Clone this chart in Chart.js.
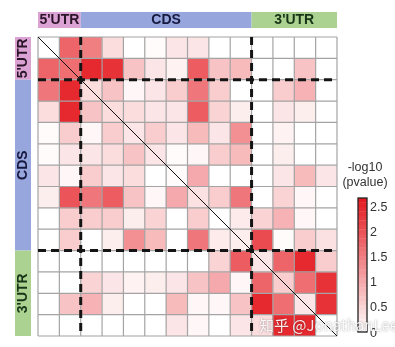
<!DOCTYPE html>
<html>
<head>
<meta charset="utf-8">
<script src="https://cdn.jsdelivr.net/npm/chart.js@4"></script>
<style>
html, body { margin: 0; padding: 0; background: #fff; }
#wrap { width: 395px; height: 347px; }
</style>
</head>
<body>
<div id="wrap"><canvas id="myHeat"></canvas></div>
<script>
// regions along both axes
const regionNames = ["5'UTR", "CDS", "3'UTR"];
const regionSizes = [2, 8, 4];
const regionColors = ['#dba3d4', '#97a6dc', '#acd291'];
const regionText = ['#2a1428', '#16183e', '#173417'];

// colorbar
const cbTicks = [0, 0.5, 1, 1.5, 2, 2.5];
const vMax = 2.7;

// -log10(pvalue), row by row (top to bottom), columns left to right
const values = [
    [0, 1.8, 1.5, 0.4, 0, 0.05, 0.3, 0.3, 0, 0, 0, 0, 0, 0],
    [1.8, 1.7, 2.5, 2.4, 0.7, 0.3, 0.15, 1.9, 0.7, 0.8, 0, 0, 0.7, 0],
    [1.6, 2.5, 0.4, 0.7, 0.1, 0.3, 0.6, 1.6, 0.6, 0, 0, 0.6, 0.9, 0],
    [0.4, 2.5, 0.7, 0.4, 0.4, 0.3, 0.3, 1.9, 0.5, 0.2, 0, 0.3, 0.2, 0],
    [0.05, 0.6, 0.1, 0.6, 0.3, 0.6, 0.3, 0.8, 0.3, 1.3, 0, 0.15, 0, 0],
    [0.05, 0.3, 0.3, 0.4, 0.7, 0.3, 0.05, 0.1, 0.6, 0.8, 0, 0.2, 0, 0],
    [0.3, 0.1, 0.6, 0.3, 0.4, 0, 0.05, 1.0, 0, 0, 0, 0.3, 0.8, 0.3],
    [0.2, 2.0, 1.6, 1.9, 0.7, 0.1, 1.0, 0.35, 0.6, 1.6, 0, 0.5, 0.1, 0],
    [0, 0.6, 0.6, 0.6, 0.2, 0.5, 0, 0.6, 0, 0.25, 0.5, 0.9, 0.1, 0],
    [0, 0.6, 0, 0.2, 1.3, 0.8, 0, 1.6, 0.25, 0.2, 2.1, 0.05, 0.6, 0.35],
    [0, 0, 0, 0, 0, 0, 0, 0, 0.5, 1.9, 0.3, 1.8, 2.5, 0.6],
    [0, 0, 0.5, 0.3, 0.15, 0.2, 0.3, 0.7, 1.0, 0.1, 1.8, 0.6, 1.7, 2.4],
    [0, 0.7, 0.9, 0.2, 0, 0, 0.8, 0.1, 0.1, 0.7, 2.5, 1.7, 0.3, 2.4],
    [0, 0, 0, 0, 0, 0, 0.3, 0.1, 0, 0.3, 0.4, 2.5, 2.5, 0]
];

const watermark = '知乎 @JonathanLee';

function heatColor(v) {
    const t = Math.max(0, Math.min(1, v / vMax));
    const r = Math.round(255 + (228 - 255) * t);
    const g = Math.round(255 + (24 - 255) * t);
    const b = Math.round(255 + (30 - 255) * t);
    return `rgb(${r}, ${g}, ${b})`;
}

const nCells = values.length;
const colLabels = values[0].map((_, i) => i);

// one stacked dataset per row, each cell is one unit tall
const datasets = values.map((row, r) => ({
    label: 'row' + r,
    data: row.map(() => 1),
    backgroundColor: row.map(heatColor),
    borderWidth: 0,
    barPercentage: 1,
    categoryPercentage: 1,
}));

const decorPlugin = {
    id: 'decor',
    afterDatasetsDraw(chart) {
        const ctx = chart.ctx;
        const x = chart.scales.x;
        const y = chart.scales.y;
        const area = chart.chartArea;
        const half = (x.getPixelForValue(1) - x.getPixelForValue(0)) / 2;
        const colEdge = c => c < nCells ? x.getPixelForValue(c) - half : x.getPixelForValue(nCells - 1) + half;
        const rowEdge = r => y.getPixelForValue(r);

        ctx.save();
        // grid
        ctx.strokeStyle = '#a4a4a4';
        ctx.lineWidth = 1.2;
        for (let i = 0; i <= nCells; i++) {
            ctx.beginPath();
            ctx.moveTo(colEdge(i), rowEdge(0));
            ctx.lineTo(colEdge(i), rowEdge(nCells));
            ctx.stroke();
            ctx.beginPath();
            ctx.moveTo(colEdge(0), rowEdge(i));
            ctx.lineTo(colEdge(nCells), rowEdge(i));
            ctx.stroke();
        }

        // diagonal
        ctx.strokeStyle = '#111';
        ctx.lineWidth = 1;
        ctx.beginPath();
        ctx.moveTo(colEdge(0), rowEdge(0));
        ctx.lineTo(colEdge(nCells), rowEdge(nCells));
        ctx.stroke();

        // dashed region separators
        ctx.strokeStyle = '#141414';
        ctx.lineWidth = 3;
        ctx.setLineDash([8, 5]);
        let acc = 0;
        for (let i = 0; i < regionSizes.length - 1; i++) {
            acc += regionSizes[i];
            ctx.beginPath();
            ctx.moveTo(colEdge(acc), rowEdge(0));
            ctx.lineTo(colEdge(acc), rowEdge(nCells));
            ctx.stroke();
            ctx.beginPath();
            ctx.moveTo(colEdge(0), rowEdge(acc));
            ctx.lineTo(colEdge(nCells), rowEdge(acc));
            ctx.stroke();
        }
        ctx.setLineDash([]);

        // region bars (top and left)
        ctx.font = 'bold 14px "Liberation Sans", Arial, sans-serif';
        ctx.textAlign = 'center';
        ctx.textBaseline = 'middle';
        let start = 0;
        for (let i = 0; i < regionNames.length; i++) {
            const end = start + regionSizes[i];
            const x0 = colEdge(start), x1 = colEdge(end);
            const y0 = rowEdge(start), y1 = rowEdge(end);
            ctx.fillStyle = regionColors[i];
            ctx.fillRect(x0, area.top - 25, x1 - x0, 16);
            ctx.fillRect(area.left - 23, y0, 16, y1 - y0);
            ctx.fillStyle = regionText[i];
            ctx.fillText(regionNames[i], (x0 + x1) / 2, area.top - 16.5);
            ctx.save();
            ctx.translate(area.left - 14.5, (y0 + y1) / 2);
            ctx.rotate(-Math.PI / 2);
            ctx.fillText(regionNames[i], 0, 0);
            ctx.restore();
            start = end;
        }

        // colorbar
        const cbLeft = 358, cbW = 9, cbTop = 198, cbBottom = 332;
        const bands = 30;
        for (let k = 0; k < bands; k++) {
            const yA = cbBottom - (cbBottom - cbTop) * k / bands;
            const yB = cbBottom - (cbBottom - cbTop) * (k + 1) / bands;
            ctx.fillStyle = heatColor(vMax * (k + 0.5) / bands);
            ctx.fillRect(cbLeft, yB, cbW, yA - yB + 0.3);
        }
        ctx.strokeStyle = '#222';
        ctx.lineWidth = 1.3;
        ctx.strokeRect(cbLeft, cbTop, cbW, cbBottom - cbTop);

        ctx.fillStyle = '#333';
        ctx.font = '12.5px "Liberation Sans", Arial, sans-serif';
        ctx.textAlign = 'left';
        cbTicks.forEach(t => {
            const ty = cbBottom - (cbBottom - cbTop) * t / vMax;
            ctx.fillText(String(t), 370, t === 0 ? ty + 1.5 : ty);
        });
        ctx.textAlign = 'center';
        ctx.fillText('-log10', 365, 168);
        ctx.fillText('(pvalue)', 365, 183);

        // watermark
        ctx.font = '15px "Noto Sans CJK SC", sans-serif';
        ctx.textAlign = 'left';
        ctx.shadowColor = 'rgba(0, 0, 0, 0.45)';
        ctx.shadowBlur = 2;
        ctx.fillStyle = 'rgba(255, 255, 255, 0.9)';
        ctx.fillText(watermark, 259, 325);
        ctx.restore();
    }
};

const config = {
    type: 'bar',
    data: {
        labels: colLabels,
        datasets: datasets
    },
    options: {
        responsive: true,
        maintainAspectRatio: false,
        animation: false,
        layout: {
            padding: { left: 38, right: 58, top: 37, bottom: 11 }
        },
        scales: {
            x: { stacked: true, display: false },
            y: { stacked: true, display: false, min: 0, max: nCells, reverse: true }
        },
        plugins: {
            legend: { display: false },
            tooltip: { enabled: false }
        }
    },
    plugins: [decorPlugin]
};

new Chart(document.getElementById('myHeat'), config);
</script>
</body>
</html>
